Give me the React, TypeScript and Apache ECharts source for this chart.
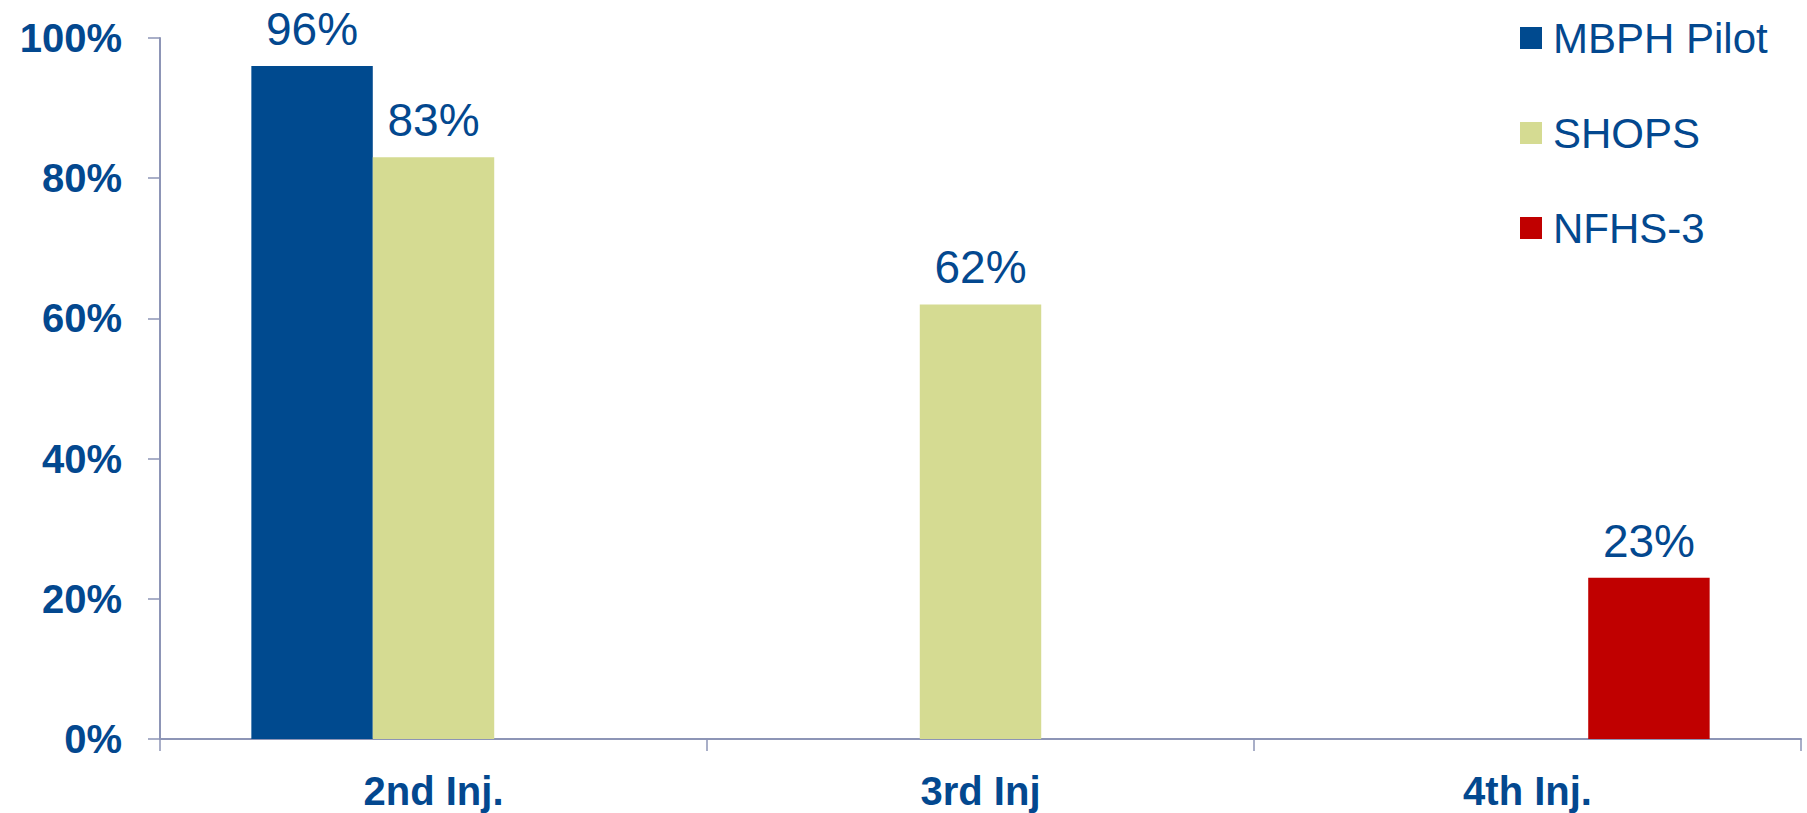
import React, { useEffect, useRef } from "react";
import * as echarts from "echarts";

const categories = ["2nd Inj.", "3rd Inj", "4th Inj."];
const seriesNames = ["MBPH Pilot", "SHOPS", "NFHS-3"];
const mbphPilot = [96, null, null];
const shops = [83, 62, null];
const nfhs3 = [null, null, 23];
const seriesColors = ["#004A8F", "#D5DB92", "#C00000"];
const yTicks = [0, 20, 40, 60, 80, 100];

const TEXT_BLUE = "#03488F";
const AXIS_COLOR = "#8D95B6";
const FONT = "'Liberation Sans', Arial, sans-serif";

export default function App() {
  const ref = useRef<HTMLDivElement>(null);
  useEffect(() => {
    if (!ref.current) return;
    const chart = echarts.init(ref.current, undefined, { renderer: "svg" });
    const values = [mbphPilot, shops, nfhs3];
    chart.setOption({
      animation: false,
      backgroundColor: "#ffffff",
      textStyle: { fontFamily: FONT },
      grid: { left: 160, right: 6, top: 38, bottom: 74, containLabel: false },
      legend: {
        orient: "vertical",
        left: 1515,
        top: 12,
        itemWidth: 22,
        itemHeight: 22,
        itemGap: 53,
        icon: "rect",
        data: seriesNames,
        textStyle: {
          color: TEXT_BLUE,
          fontSize: 42,
          lineHeight: 42,
          fontFamily: FONT,
          padding: [0, 0, 0, 6],
        },
      },
      xAxis: {
        type: "category",
        data: categories,
        boundaryGap: true,
        axisLine: { show: true, lineStyle: { color: AXIS_COLOR, width: 2 } },
        axisTick: { show: true, interval: 0, length: 12, lineStyle: { color: AXIS_COLOR, width: 1.5 } },
        axisLabel: {
          color: TEXT_BLUE,
          fontSize: 40,
          fontWeight: "bold",
          fontFamily: FONT,
          margin: 32,
        },
      },
      yAxis: {
        type: "value",
        min: yTicks[0],
        max: yTicks[yTicks.length - 1],
        interval: 20,
        axisLine: { show: true, lineStyle: { color: AXIS_COLOR, width: 2 } },
        axisTick: { show: true, length: 12, lineStyle: { color: AXIS_COLOR, width: 1.5 } },
        splitLine: { show: false },
        axisLabel: {
          color: TEXT_BLUE,
          fontSize: 40,
          fontWeight: "bold",
          fontFamily: FONT,
          margin: 38,
          formatter: (v: number) => v + "%",
        },
      },
      series: seriesNames.map((name, i) => ({
        name,
        type: "bar",
        data: values[i],
        barGap: "0%",
        barCategoryGap: "33.4%",
        itemStyle: { color: seriesColors[i] },
        label: {
          show: true,
          position: "top",
          distance: 14,
          color: TEXT_BLUE,
          fontSize: 46,
          fontFamily: FONT,
          formatter: (p: any) => (p.value == null ? "" : p.value + "%"),
        },
      })),
    });
    return () => chart.dispose();
  }, []);
  return (
    <div
      ref={ref}
      style={{ position: "fixed", left: 0, top: 0, width: 1807, height: 813 }}
    />
  );
}
